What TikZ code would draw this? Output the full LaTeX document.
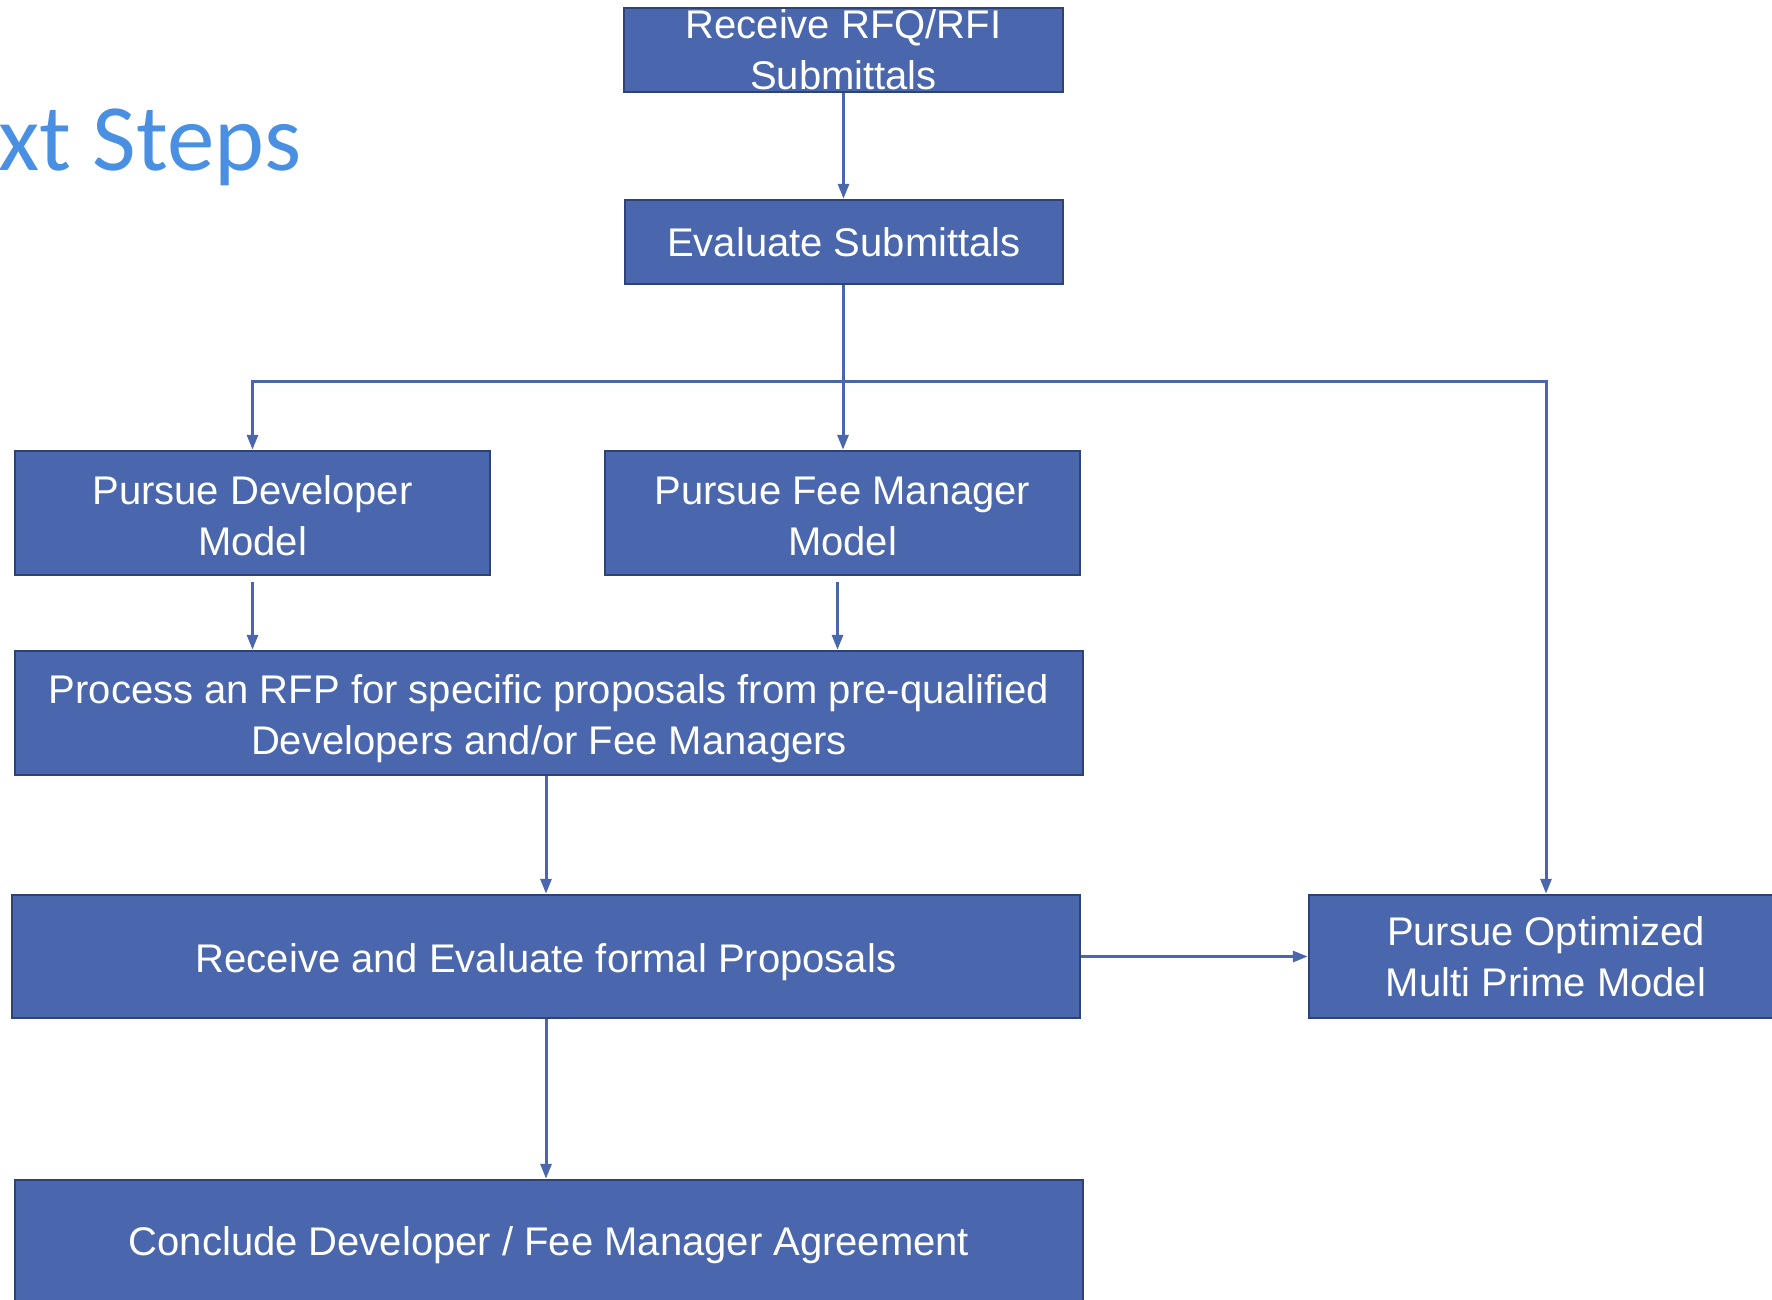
\documentclass[tikz,border=0pt]{standalone}
\usepackage{fontspec}
\setmainfont{Liberation Sans}
\newfontfamily\titlefont{Carlito}
\usetikzlibrary{arrows.meta}

\definecolor{boxblue}{RGB}{74,102,172}
\definecolor{boxedge}{RGB}{47,66,117}
\definecolor{titleblue}{RGB}{74,144,226}

\newcommand\lift[1]{\rule{0pt}{#1}}

\begin{document}
\begin{tikzpicture}[x=1pt,y=-1pt,
  box/.style={draw=boxedge,line width=2.5pt,fill=boxblue,text=white,align=center,
    inner xsep=0pt,inner ysep=0pt,font=\fontsize{40}{51}\selectfont},
  lower/.style={execute at begin node={\rule{0pt}{#1}}},
  arr/.style={draw=boxblue,line width=3pt,-{Triangle[length=15pt,width=11pt]}}]
 \useasboundingbox (0,0) rectangle (1772,1299);

 \node[anchor=base west,inner sep=0pt,text=titleblue,
   font=\titlefont\fontsize{95}{110}\selectfont] (title) at (-2,170) {xt Steps};

 % top of the chart
 \node[box,minimum width=439pt,minimum height=84pt,inner ysep=-6pt] (rfq) at (843.5,50)
   {Receive RFQ/RFI\\Submittals};
 \node[box,minimum width=438pt,minimum height=84pt] (eval) at (844,242) {Evaluate Submittals};

 % the three models
 \node[box,minimum width=475pt,minimum height=124pt] (dev) at (252.5,513)
   {\lift{34pt}Pursue Developer\\Model};
 \node[box,minimum width=475pt,minimum height=124pt] (fee) at (842.5,513)
   {\lift{34pt}Pursue Fee Manager\\Model};
 \node[box,minimum width=474pt,minimum height=123pt] (opt) at (1546,956.5)
   {Pursue Optimized\\Multi Prime Model};

 % proposals
 \node[box,minimum width=1068pt,minimum height=124pt] (rfp) at (549,713)
   {\lift{40pt}Process an RFP for specific proposals from pre-qualified\\Developers and/or Fee Managers};
 \node[box,lower=40pt,minimum width=1068pt,minimum height=123pt] (recv) at (546,956.5)
   {Receive and Evaluate formal Proposals};
 \node[box,lower=36pt,minimum width=1068pt,minimum height=124pt] (concl) at (549,1242)
   {Conclude Developer / Fee Manager Agreement};

 \coordinate (split) at (843,381);

 \draw[arr] (rfq.south) -- (rfq.south |- eval.north);
 \draw[arr] (eval.south -| split) -- (split |- fee.north);
 \draw[arr] (split) -| (dev.north);
 \draw[arr] (split) -| (opt.north);
 \draw[arr,shorten <=6pt] (dev.south) -- (dev.south |- rfp.north);
 \draw[arr,shorten <=6pt] ([xshift=-5pt]fee.south) -- ([xshift=-5pt]fee.south |- rfp.north);
 \draw[arr] (rfp.south -| recv.north) -- (recv.north);
 \draw[arr] (recv.east) -- (opt.west);
 \draw[arr] (recv.south) -- (recv.south |- concl.north);
\end{tikzpicture}
\end{document}
